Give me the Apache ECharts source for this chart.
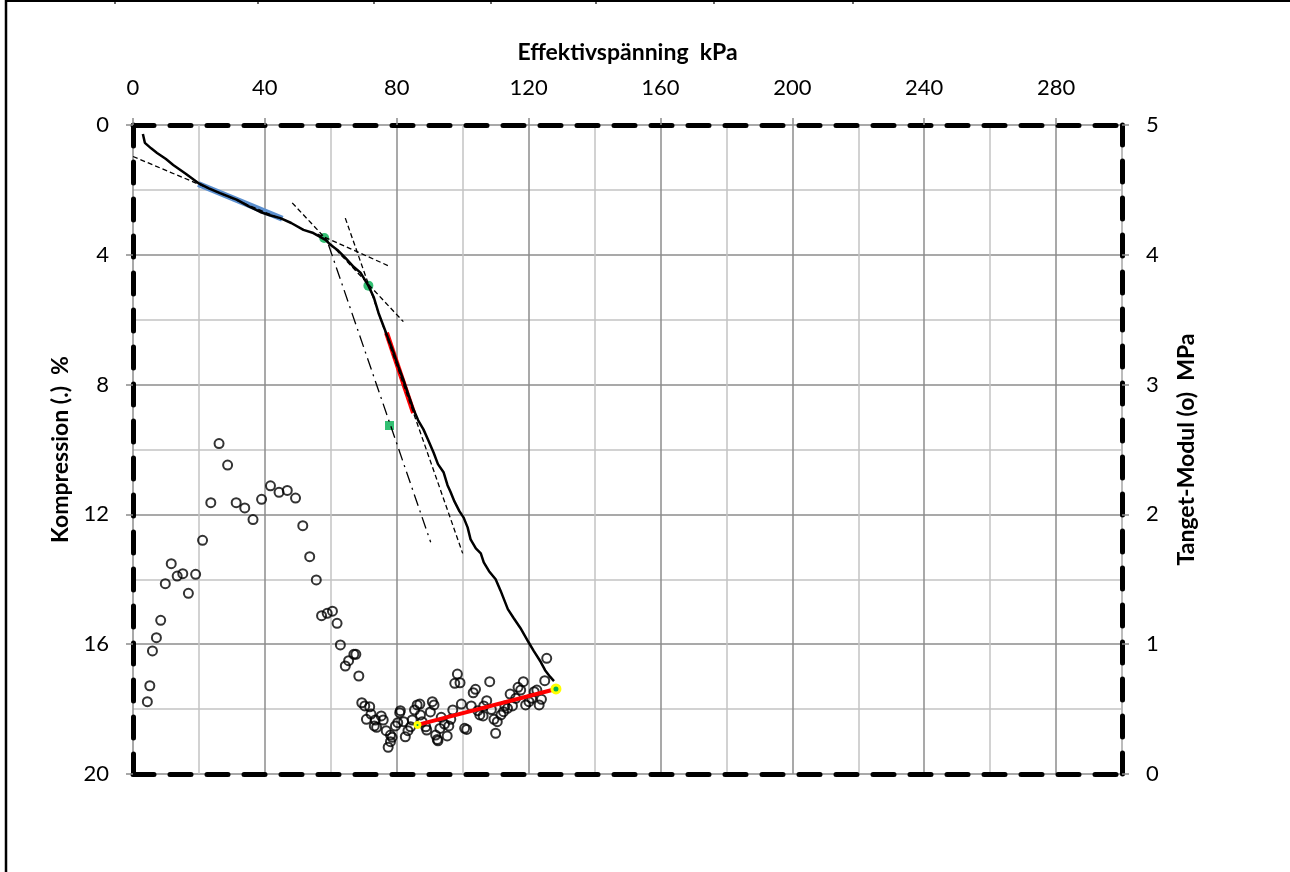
<!DOCTYPE html>
<html><head><meta charset="utf-8">
<script src="https://cdn.jsdelivr.net/npm/echarts@6/dist/echarts.min.js"></script>
<style>html,body{margin:0;padding:0;background:#fff}#c{width:1290px;height:872px}</style>
</head><body><div id="c"></div><script>
// Compression curve (left axis, %)
const curveStress = [3.0,3.6,5.5,7.3,10,12.2,16,19.8,23,26.4,31.6,35,38.6,41.5,44.7,48,51.7,54.7,58.4,60,62,64.5,66.9,69,71.4,73,74.5,76,77.5,79,80.5,82,83.5,85.1,86.5,88.1,89.5,91.2,92.5,94.2,95.4,96.3,97.5,99,100.3,101.5,102.4,104,105.5,106.4,108,110,111.5,113.7,115.5,117.5,120,121.5,123.7,125,126.5,127.7];
const curveCompression = [0.28,0.55,0.72,0.86,1.05,1.23,1.5,1.79,1.95,2.1,2.31,2.5,2.68,2.78,2.87,3.02,3.23,3.33,3.54,3.7,3.85,4.1,4.37,4.55,4.95,5.3,5.8,6.2,6.6,7.0,7.45,7.85,8.3,8.77,9.1,9.38,9.7,10.1,10.45,10.7,11.1,11.3,11.6,11.9,12.1,12.4,12.77,13.05,13.2,13.48,13.75,14.0,14.35,14.92,15.2,15.5,15.94,16.2,16.55,16.8,17.0,17.14];

// Tangent modulus points (right axis, MPa)
const modStress = [26.1,28.7,23.6,31.3,33.9,36.4,39.0,41.7,44.3,46.8,49.3,51.5,21.1,11.6,9.8,13.4,15.1,19.0,16.8,8.4,7.1,5.9,5.1,4.35,53.6,55.6,57.2,58.9,60.5,61.9,62.9,64.4,65.4,67.0,67.6,68.5,69.4,70.3,
71.8,72.2,70.8,73.5,75.3,75.9,73.2,73.9,76.8,78.1,77.4,78.1,78.6,79.6,80.3,80.9,81.1,82.1,82.6,83.4,84.2,84.7,85.4,86.2,87.0,87.7,87.2,88.8,89.1,90.2,90.8,91.3,91.8,92.3,92.5,93.1,93.5,94.5,95.3,95.8,96.4,97.0,97.6,98.4,99.2,99.6,100.6,101.2,102.6,103.2,103.9,104.6,105.2,106.2,106.4,107.3,108.2,108.7,109.5,110.0,110.5,111.6,112.4,112.8,113.6,114.4,115.1,116.1,116.8,117.6,118.4,119.1,120.1,120.9,121.7,122.5,123.2,123.9,124.9,125.5];
const modValue = [2.546,2.38,2.09,2.09,2.05,1.96,2.116,2.22,2.17,2.185,2.126,1.913,1.80,1.62,1.466,1.525,1.543,1.538,1.392,1.184,1.05,0.948,0.68,0.557,1.674,1.495,1.22,1.238,1.254,1.161,0.994,0.832,0.873,0.922,0.922,0.755,0.549,0.524,
0.518,0.462,0.421,0.416,0.447,0.416,0.37,0.36,0.334,0.30,0.206,0.249,0.283,0.37,0.395,0.472,0.488,0.403,0.287,0.334,0.364,0.416,0.493,0.532,0.539,0.403,0.455,0.364,0.339,0.478,0.557,0.532,0.30,0.266,0.256,0.351,0.437,0.385,0.293,0.37,0.421,0.493,0.699,0.77,0.703,0.539,0.352,0.343,0.524,0.626,0.652,0.488,0.455,0.447,0.524,0.565,0.711,0.497,0.421,0.314,0.403,0.455,0.48,0.524,0.506,0.616,0.524,0.583,0.668,0.647,0.711,0.532,0.557,0.583,0.634,0.647,0.532,0.575,0.719,0.891];

// Construction lines (stress, compression)
const blueFitStress = [19.8,45.3];
const blueFitComp = [1.82,2.89];
const redFitStress = [76.9,85.1];
const redFitComp = [6.4,8.87];
const tangent1Stress = [0,45];
const tangent1Comp = [0.97,2.9];
const tangent2Stress = [48.3,82];
const tangent2Comp = [2.4,6.06];
const tangent3Stress = [56,77.5];
const tangent3Comp = [3.36,4.34];
const tangent4Stress = [64.4,100];
const tangent4Comp = [2.87,13.2];
const dashDotStress = [59.3,90.3];
const dashDotComp = [3.69,12.86];
const greenDotStress = [58,71.4];
const greenDotComp = [3.48,4.95];
const greenSquareStress = [77.8];
const greenSquareComp = [9.26];
// Modulus fit line (stress, MPa)
const modFitStress = [86.3,128.3];
const modFitValue = [0.378,0.655];

const zip = (a,b)=>a.map((v,i)=>[v,b[i]]);
const FONT = 'Lato, "Open Sans", sans-serif';
const frameLine = {show:true, onZero:false, lineStyle:{color:'#000', width:5, type:[21,16]}};
const majorGrid = {show:true, lineStyle:{color:'#8c8c8c', width:1.5}};
const minorGrid = {show:true, lineStyle:{color:['rgba(0,0,0,0)','#c3c3c3'], width:1.5}};
const tick = {show:true, length:7, lineStyle:{color:'#8c8c8c', width:1.5}};
const lbl = {fontSize:22, color:'#000', fontFamily:FONT};
const nameStyle = {fontSize:23, fontWeight:'bold', color:'#000', fontFamily:FONT};

function segLine(xs, ys, style, yIdx){
  return {type:'line', xAxisIndex:0, yAxisIndex:yIdx||0, data:zip(xs,ys), symbol:'none', showSymbol:false, silent:true, lineStyle:style};
}

const chart = echarts.init(document.getElementById('c'), null, {renderer:'canvas'});
chart.setOption({
  animation:false,
  backgroundColor:'#fff',
  textStyle:{fontFamily:FONT},
  grid:{left:133, top:125, right:168, bottom:98, containLabel:false},
  xAxis:[
    {type:'value', position:'top', min:0, max:300, interval:40,
     name:'Effektivspänning  kPa', nameLocation:'middle', nameGap:61, nameTextStyle:nameStyle,
     axisLine:frameLine, axisTick:tick, axisLabel:Object.assign({margin:26, showMaxLabel:false}, lbl),
     splitLine:majorGrid},
    {type:'value', position:'bottom', min:0, max:300, interval:20,
     axisLine:frameLine, axisTick:{show:false}, axisLabel:{show:false}, splitLine:minorGrid}
  ],
  yAxis:[
    {type:'value', position:'left', inverse:true, min:0, max:20, interval:4,
     name:'Kompression (.)  %', nameLocation:'middle', nameRotate:90, nameGap:61, nameTextStyle:nameStyle,
     axisLine:frameLine, axisTick:tick, axisLabel:Object.assign({margin:24}, lbl), splitLine:majorGrid},
    {type:'value', position:'right', min:0, max:5, interval:1,
     name:'Tanget-Modul (o)  MPa', nameLocation:'middle', nameRotate:90, nameGap:53, nameTextStyle:nameStyle,
     axisLine:frameLine, axisTick:tick, axisLabel:Object.assign({margin:24}, lbl), splitLine:{show:false}},
    {type:'value', position:'left', inverse:true, min:0, max:20, interval:2,
     axisLine:{show:false, onZero:false}, axisTick:{show:false}, axisLabel:{show:false}, splitLine:minorGrid}
  ],
  graphic:[
    {type:'line', shape:{x1:6,y1:0,x2:6,y2:872}, style:{stroke:'#000', lineWidth:2.5}},
    {type:'line', shape:{x1:6,y1:1,x2:1290,y2:1}, style:{stroke:'#000', lineWidth:2}}
  ].concat([115,258,374,491,596,714,853].map(x=>({type:'line', shape:{x1:x,y1:0,x2:x,y2:4}, style:{stroke:'#000', lineWidth:1.2}}))),
  series:[
    {type:'scatter', xAxisIndex:0, yAxisIndex:1, data:zip(modStress, modValue), symbol:'circle', symbolSize:9,
     itemStyle:{color:'rgba(0,0,0,0)', borderColor:'#000', borderWidth:2}, silent:true},
    segLine(blueFitStress, blueFitComp, {color:'#5b8fcf', width:6}),
    segLine(redFitStress, redFitComp, {color:'#ff0000', width:5}),
    segLine(curveStress, curveCompression, {color:'#000', width:2.5}),
    segLine(tangent1Stress, tangent1Comp, {color:'#000', width:1.3, type:[5,3]}),
    segLine(tangent2Stress, tangent2Comp, {color:'#000', width:1.3, type:[5,3]}),
    segLine(tangent3Stress, tangent3Comp, {color:'#000', width:1.3, type:[5,3]}),
    segLine(tangent4Stress, tangent4Comp, {color:'#000', width:1.3, type:[5,3]}),
    segLine(dashDotStress, dashDotComp, {color:'#000', width:1.3, type:[12,5,2,5]}),
    {type:'scatter', xAxisIndex:0, yAxisIndex:0, data:zip(greenDotStress, greenDotComp), symbol:'circle', symbolSize:10,
     itemStyle:{color:'#00b050'}, silent:true},
    {type:'scatter', xAxisIndex:0, yAxisIndex:0, data:zip(greenSquareStress, greenSquareComp), symbol:'rect', symbolSize:9,
     itemStyle:{color:'#00b050'}, silent:true},
    {type:'line', xAxisIndex:0, yAxisIndex:1, data:zip(modFitStress, modFitValue), symbol:'circle',
     symbolSize:function(v, p){ return p.dataIndex === 0 ? 5 : 8; }, showSymbol:true, silent:true,
     lineStyle:{color:'#ff0000', width:4},
     itemStyle:{color:'#00b050', borderColor:'#ffff00', borderWidth:3}}
  ]
});
</script></body></html>
